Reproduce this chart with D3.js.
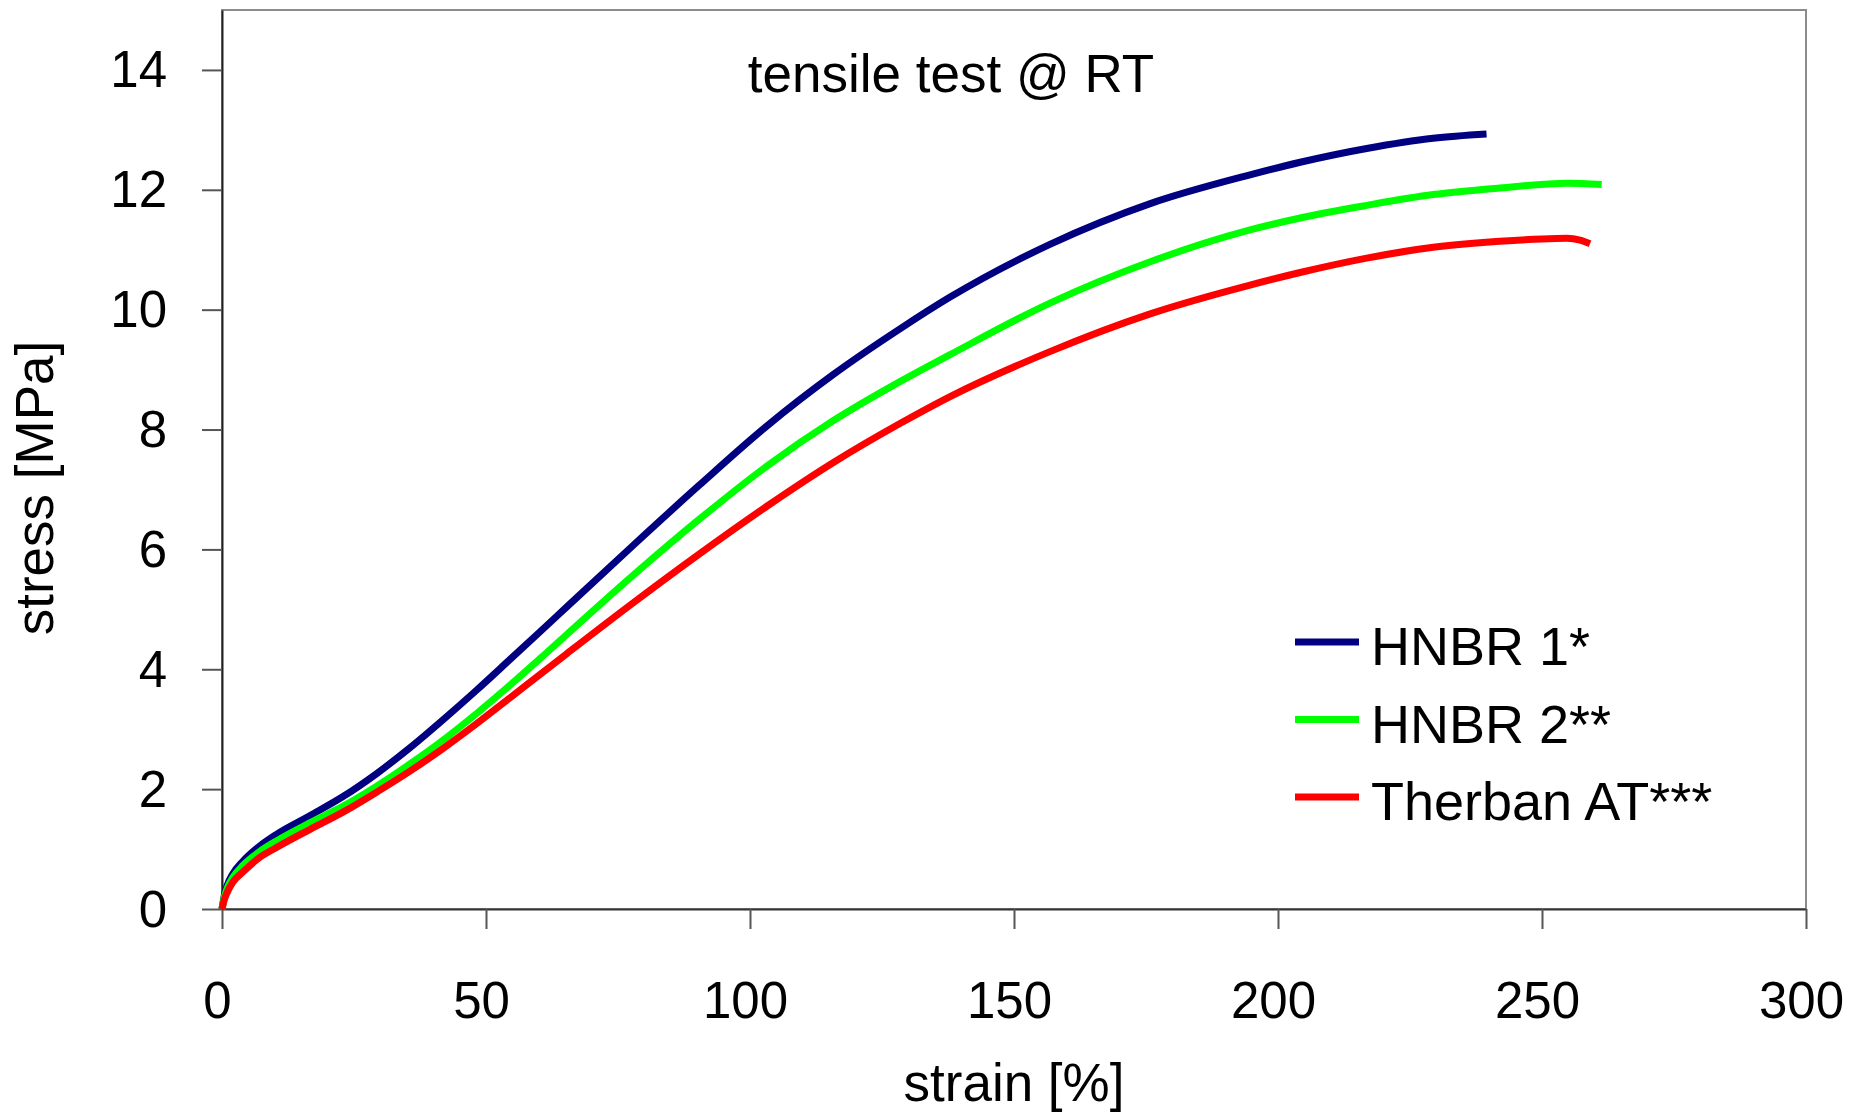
<!DOCTYPE html>
<html>
<head>
<meta charset="utf-8">
<script src="https://cdn.jsdelivr.net/npm/d3@7"></script>
<style>
  body { margin: 0; background: #fff; }
  svg { display: block; font-family: "Liberation Sans", Arial, sans-serif; }
</style>
</head>
<body>
<svg id="chart" width="1863" height="1114"></svg>
<script>
// data
const hnbr1Strain = [0, 0.5, 1, 2, 4, 7, 10.4, 16.7, 23, 29.3, 35.6, 41.9, 48.2, 54.5, 60.9, 65.3, 77.9, 90.5, 103.2, 115.8, 128.4, 137.9, 156.8, 175.8, 194.7, 204.2, 216.8, 229.4, 239.5]
const hnbr1Stress = [0, 0.25, 0.40, 0.58, 0.80, 1.04, 1.25, 1.56, 1.88, 2.26, 2.69, 3.16, 3.65, 4.16, 4.68, 5.04, 6.07, 7.08, 8.06, 8.92, 9.68, 10.21, 11.09, 11.77, 12.25, 12.46, 12.69, 12.86, 12.93]

const hnbr2Strain = [0, 0.5, 1, 2, 4, 7, 10.4, 16.7, 23, 29.3, 35.6, 41.9, 48.2, 54.5, 60.9, 65.3, 77.9, 90.5, 103.2, 115.8, 128.4, 137.9, 156.8, 175.8, 194.7, 204.2, 216.8, 229.4, 242, 254.7, 261.3]
const hnbr2Stress = [0, 0.22, 0.35, 0.52, 0.73, 0.95, 1.14, 1.44, 1.72, 2.05, 2.42, 2.82, 3.26, 3.73, 4.23, 4.58, 5.57, 6.51, 7.39, 8.15, 8.80, 9.25, 10.11, 10.80, 11.33, 11.53, 11.74, 11.92, 12.03, 12.11, 12.09]

const therbanStrain = [0, 0.5, 1, 2, 4, 7, 10.4, 16.7, 23, 29.3, 35.6, 41.9, 48.2, 54.5, 60.9, 65.3, 77.9, 90.5, 103.2, 115.8, 128.4, 137.9, 156.8, 175.8, 194.7, 204.2, 216.8, 229.4, 242, 250, 254.7, 257.2, 259.1]
const therbanStress = [0, 0.17, 0.28, 0.44, 0.62, 0.85, 1.03, 1.33, 1.62, 1.95, 2.30, 2.68, 3.09, 3.52, 3.96, 4.26, 5.11, 5.93, 6.72, 7.45, 8.10, 8.55, 9.30, 9.93, 10.41, 10.62, 10.86, 11.04, 11.14, 11.18, 11.19, 11.16, 11.10]

const seriesNames = ['HNBR 1*', 'HNBR 2**', 'Therban AT***']
const seriesColors = ['#000080', '#00ff00', '#ff0000']
const xTicks = [0, 50, 100, 150, 200, 250, 300]
const yTicks = [0, 2, 4, 6, 8, 10, 12, 14]

const series = [
  { name: seriesNames[0], color: seriesColors[0], pts: hnbr1Strain.map((s, i) => [s, hnbr1Stress[i]]) },
  { name: seriesNames[1], color: seriesColors[1], pts: hnbr2Strain.map((s, i) => [s, hnbr2Stress[i]]) },
  { name: seriesNames[2], color: seriesColors[2], pts: therbanStrain.map((s, i) => [s, therbanStress[i]]) }
]

const margin = { top: 10, right: 57, bottom: 205, left: 222 }
const svg = d3.select('#chart')
const width = 1863 - margin.left - margin.right
const height = 1114 - margin.top - margin.bottom

const x = d3.scaleLinear().domain([0, 300]).range([0, width])
const y = d3.scaleLinear().domain([0, 15]).range([height, 0])

const g = svg.append('g').attr('transform', `translate(${margin.left},${margin.top})`)

// plot area border (top / right in gray)
g.append('rect')
  .attr('width', width)
  .attr('height', height)
  .attr('fill', 'none')
  .attr('stroke', '#8c8c8c')
  .attr('stroke-width', 2)

const xAxis = g.append('g')
  .attr('transform', `translate(0,${height})`)
  .call(d3.axisBottom(x).tickValues(xTicks).tickSize(20).tickSizeOuter(0))
xAxis.select('.domain').attr('stroke', '#333').attr('stroke-width', 2)
xAxis.selectAll('.tick line').attr('stroke', '#555').attr('stroke-width', 2)
xAxis.selectAll('text')
  .attr('y', 109)
  .attr('dy', 0)
  .attr('dx', -5)
  .attr('fill', '#000')
  .style('font-size', '51px')

const yAxis = g.append('g')
  .call(d3.axisLeft(y).tickValues(yTicks).tickSize(20).tickSizeOuter(0))
yAxis.select('.domain').attr('stroke', '#222').attr('stroke-width', 2)
yAxis.selectAll('.tick line').attr('stroke', '#555').attr('stroke-width', 2)
yAxis.selectAll('text')
  .attr('x', -55)
  .attr('dy', 17)
  .attr('fill', '#000')
  .style('font-size', '51px')

// curves
const line = d3.line()
  .x((d) => x(d[0]))
  .y((d) => y(d[1]))
  .curve(d3.curveMonotoneX)

g.selectAll('path.curve')
  .data(series)
  .enter()
  .append('path')
  .attr('class', 'curve')
  .attr('d', (d) => line(d.pts))
  .attr('fill', 'none')
  .attr('stroke', (d) => d.color)
  .attr('stroke-width', 7)
  .attr('stroke-linejoin', 'round')

// title
svg.append('text')
  .attr('x', 951)
  .attr('y', 92)
  .attr('text-anchor', 'middle')
  .style('font-size', '53px')
  .text('tensile test @ RT')

// axis titles
svg.append('text')
  .attr('x', margin.left + width / 2)
  .attr('y', 1101)
  .attr('text-anchor', 'middle')
  .style('font-size', '53px')
  .text('strain [%]')

svg.append('text')
  .attr('transform', 'translate(53,488) rotate(-90)')
  .attr('text-anchor', 'middle')
  .style('font-size', '53px')
  .text('stress [MPa]')

// legend
const legend = svg.append('g').attr('transform', 'translate(1295,642)')
const item = legend.selectAll('g')
  .data(series)
  .enter()
  .append('g')
  .attr('transform', (d, i) => `translate(0,${i * 77.5})`)
item.append('line')
  .attr('x1', 0)
  .attr('x2', 64)
  .attr('stroke', (d) => d.color)
  .attr('stroke-width', 7)
item.append('text')
  .attr('x', 76)
  .attr('y', 23)
  .style('font-size', '54px')
  .text((d) => d.name)
</script>
</body>
</html>
